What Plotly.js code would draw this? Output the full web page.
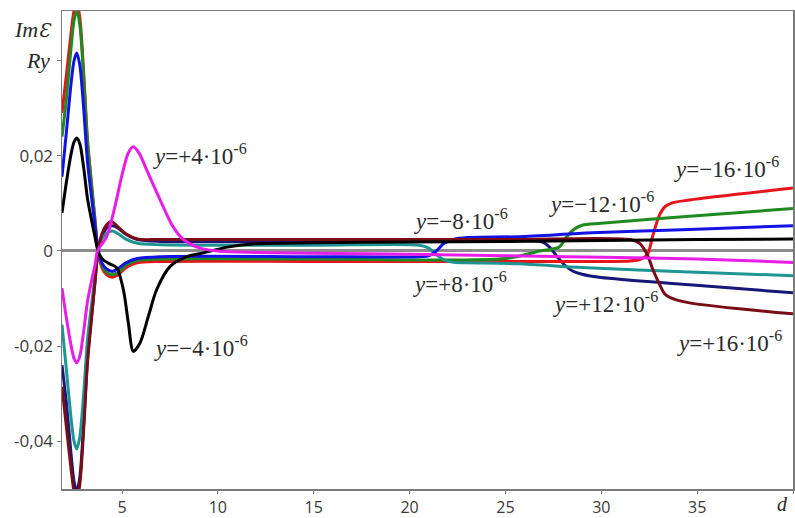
<!DOCTYPE html>
<html>
<head>
<meta charset="utf-8">
<script src="https://cdn.plot.ly/plotly-3.0.1.min.js"></script>
<style>html,body{margin:0;padding:0;background:#fff;}#chart{width:795px;height:518px;}</style>
</head>
<body>
<div id="chart"></div>
<script>
// ---- data (d, Im E / Ry) ----
const dRed = [1.87,2.1,2.35,2.5,2.64,2.8,3.0,3.2,3.45,3.6,3.75,3.95,4.2,4.5,4.8,5.2,5.8,7,15,25,31.5,32.0,32.4,32.7,33.0,33.3,33.7,34.6,40];
const vRed = [0.029,0.037,0.046,0.0505,0.052,0.049,0.0375,0.0234,0.0125,0.0062,0,-0.0035,-0.005,-0.0055,-0.005,-0.0035,-0.0025,-0.0022,-0.0022,-0.0022,-0.0021,-0.0018,-0.0008,0.0034,0.0072,0.0092,0.0101,0.0107,0.0132];

const dMaroon = [1.87,2.1,2.35,2.5,2.64,2.8,3.0,3.2,3.45,3.6,3.75,3.95,4.2,4.45,4.8,5.2,5.8,7,15,25,31.5,32.0,32.4,32.7,33.05,33.3,33.6,34.6,40];
const vMaroon = [-0.0285,-0.037,-0.046,-0.0505,-0.052,-0.049,-0.0375,-0.0234,-0.0125,-0.0062,0,0.0035,0.0055,0.0062,0.005,0.0036,0.0025,0.0024,0.0024,0.0024,0.0024,0.0016,-0.0008,-0.004,-0.0071,-0.009,-0.0098,-0.0109,-0.0132];

const dGreen = [1.87,2.1,2.35,2.5,2.64,2.8,3.0,3.2,3.45,3.6,3.75,3.95,4.2,4.5,4.8,5.2,5.8,7,15,25,26.8,27.8,28.2,28.6,29.0,30.0,34.6,40];
const vGreen = [0.024,0.032,0.043,0.0485,0.0505,0.0475,0.0364,0.0227,0.0121,0.006,0,-0.003,-0.0045,-0.005,-0.0045,-0.003,-0.002,-0.0017,-0.0017,-0.0016,0,0.0008,0.003,0.0046,0.0054,0.0058,0.0073,0.0089];

const dNavy = [1.87,2.1,2.35,2.5,2.64,2.8,3.0,3.2,3.45,3.6,3.75,3.95,4.2,4.5,4.8,5.2,5.8,7,15,26.9,27.3,27.7,28.1,28.5,29.0,30.0,34.6,40];
const vNavy = [-0.024,-0.032,-0.043,-0.0485,-0.0505,-0.0475,-0.0364,-0.0227,-0.0121,-0.006,0,0.003,0.0048,0.0053,0.0048,0.0035,0.0024,0.002,0.002,0.0019,0.0008,-0.0012,-0.003,-0.0042,-0.0049,-0.0056,-0.0071,-0.0088];

const dBlue = [1.87,2.1,2.35,2.5,2.64,2.8,3.0,3.2,3.45,3.6,3.75,3.95,4.2,4.5,4.8,5.2,5.8,7,15,20.5,21.0,21.4,21.8,22.3,23.0,25.7,29.5,34.6,40];
const vBlue = [0.0156,0.025,0.0354,0.04,0.0416,0.039,0.03,0.0187,0.01,0.005,0,-0.0025,-0.0038,-0.0043,-0.0037,-0.0025,-0.0016,-0.0012,-0.0012,-0.0012,-0.001,0,0.0016,0.0024,0.0028,0.003,0.0038,0.0045,0.0053];

const dTeal = [1.87,2.1,2.35,2.5,2.64,2.8,3.0,3.2,3.45,3.6,3.75,3.95,4.2,4.5,4.8,5.2,5.8,7,15,20.5,21.0,21.4,21.8,22.3,23.0,25.7,29.0,34.6,40];
const vTeal = [-0.0155,-0.025,-0.0354,-0.04,-0.0416,-0.039,-0.03,-0.0187,-0.01,-0.005,0,0.0025,0.0038,0.0042,0.0036,0.0025,0.0016,0.0013,0.0012,0.0012,0.0006,-0.0008,-0.0019,-0.0024,-0.0025,-0.0027,-0.0035,-0.0044,-0.0052];

const dBlack = [1.87,2.1,2.35,2.5,2.64,2.8,3.0,3.2,3.45,3.6,3.75,4.0,4.4,4.72,5.07,5.33,5.59,5.94,6.37,6.81,7.5,8.37,9.24,10.5,12,15,20,25,30,35,40];
const vBlack = [0.008,0.0145,0.0205,0.0229,0.0237,0.0225,0.0175,0.011,0.0057,0.0028,0,-0.0018,-0.0028,-0.0035,-0.0081,-0.0151,-0.0211,-0.0193,-0.0138,-0.0081,-0.0033,-0.0012,-0.0004,0.0008,0.0015,0.0017,0.0019,0.002,0.0022,0.0024,0.0025];

const dMagenta = [1.87,2.1,2.35,2.5,2.64,2.8,3.0,3.2,3.45,3.6,3.72,4.2,4.63,4.98,5.33,5.59,5.9,6.29,6.98,7.66,8.2,9.07,10,12,15,20,25,30,35,40];
const vMagenta = [-0.0078,-0.0141,-0.02,-0.0226,-0.0235,-0.0221,-0.0169,-0.0106,-0.0056,-0.0028,0,0.003,0.0093,0.0156,0.0206,0.0219,0.0205,0.017,0.0108,0.0051,0.0024,0.0006,0,-0.0003,-0.0005,-0.0007,-0.001,-0.0013,-0.0017,-0.0024];

const yTickVals = [-0.04,-0.02,0,0.02,0.04];
const yTickText = ["-0,04","-0,02","0","0,02",""];
const xTickVals = [5,10,15,20,25,30,35,40];
const xTickText = ["5","10","15","20","25","30","35",""];

const labels = ["+4","−4","−8","+8","−12","+12","−16","+16"];
const labelD = [9.07,9.12,22.67,22.62,30.02,30.23,36.54,36.7];
const labelV = [0.0202,-0.0201,0.00655,-0.00668,0.0101,-0.0109,0.0175,-0.0191];

// ---- traces ----
function tr(x, y, color){
  return {x:x, y:y, type:'scatter', mode:'lines', hoverinfo:'skip',
          line:{color:color, width:3, shape:'spline', smoothing:0.8}};
}
const traces = [
  tr(dNavy, vNavy, '#17177a'),
  tr(dRed, vRed, '#e8141c'),
  tr(dGreen, vGreen, '#1f8a1f'),
  tr(dTeal, vTeal, '#1f9593'),
  tr(dBlue, vBlue, '#1212e6'),
  tr(dMaroon, vMaroon, '#7a0c16'),
  tr(dBlack, vBlack, '#000000'),
  tr(dMagenta, vMagenta, '#e81ee8')
];

const serif = 'Liberation Serif, Times New Roman, serif';
const annotations = labels.map((s,i)=>({
  x: labelD[i], y: labelV[i], xref:'x', yref:'y', showarrow:false,
  xanchor:'center', yanchor:'middle',
  text: '<i>y</i>=' + s + '·10<sup>-6</sup>',
  font:{family:serif, size:23, color:'#2a2a2a'}
}));
annotations.push({xref:'paper', yref:'paper', x:-0.0397, y:0.962, xanchor:'center', yanchor:'middle', showarrow:false,
  text:'<i>Im</i><span style="font-family:DejaVu Serif;font-style:italic;font-size:19px">Ɛ</span>',
  font:{family:serif, size:22, color:'#2a2a2a'}});
annotations.push({xref:'paper', yref:'y', x:-0.014, y:0.04, xanchor:'right', yanchor:'middle', showarrow:false,
  text:'<i>Ry</i>', font:{family:serif, size:22, color:'#2a2a2a'}});
annotations.push({xref:'paper', yref:'paper', x:0.986, y:-0.031, xanchor:'center', yanchor:'middle', showarrow:false,
  text:'<i>d</i>', font:{family:serif, size:20, color:'#2a2a2a'}});

const layout = {
  width:795, height:518,
  margin:{l:62, r:2, t:11, b:29},
  paper_bgcolor:'#ffffff', plot_bgcolor:'#ffffff',
  showlegend:false,
  xaxis:{range:[1.87,40], tickvals:xTickVals, ticktext:xTickText,
         showgrid:false, zeroline:false, showline:true, mirror:true,
         linecolor:'#7a7a7a', linewidth:1.5, ticks:'outside', ticklen:3, tickcolor:'#7a7a7a',
         tickfont:{family:'Open Sans, Noto Sans, sans-serif', size:16, color:'#3a3a3a'}},
  yaxis:{range:[-0.0500,0.0504], tickvals:yTickVals, ticktext:yTickText,
         showgrid:false, zeroline:true, zerolinecolor:'#8c8c8c', zerolinewidth:3,
         showline:true, mirror:true, linecolor:'#7a7a7a', linewidth:1.5,
         ticks:'outside', ticklen:4, tickcolor:'#7a7a7a',
         tickfont:{family:'Open Sans, Noto Sans, sans-serif', size:17, color:'#3a3a3a'}},
  annotations: annotations
};

Plotly.newPlot('chart', traces, layout, {staticPlot:true, displayModeBar:false});
</script>
</body>
</html>
